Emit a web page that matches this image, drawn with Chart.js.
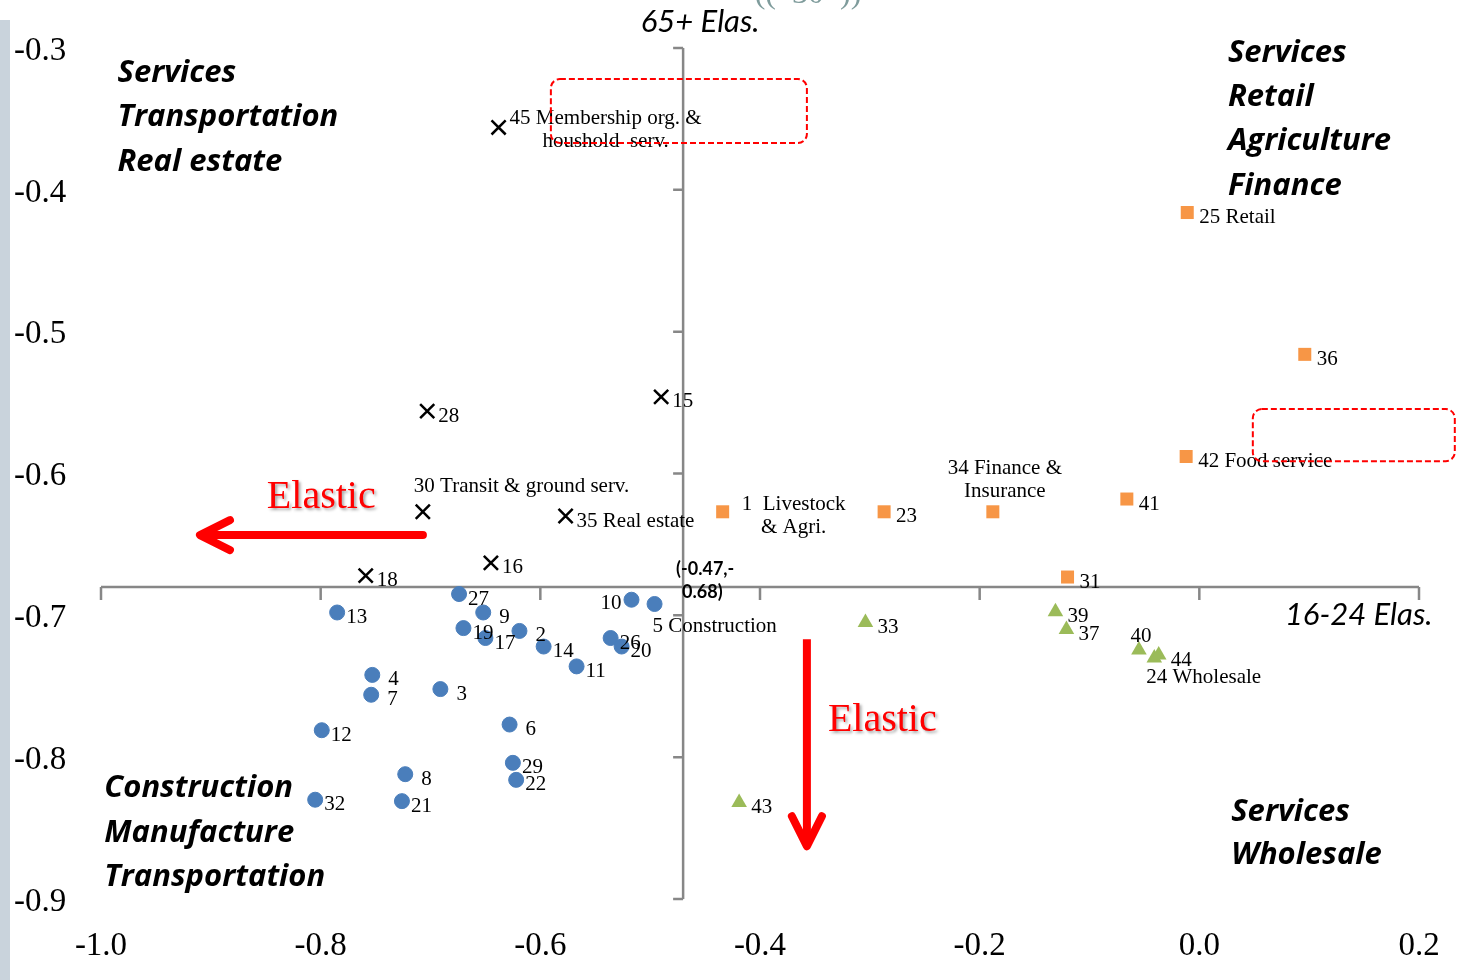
<!DOCTYPE html>
<html>
<head>
<meta charset="utf-8">
<script src="https://cdn.jsdelivr.net/npm/chart.js@4"></script>
<style>
  html, body { margin: 0; padding: 0; background: #fff; }
  #wrap { width: 1469px; height: 980px; position: relative; }
</style>
</head>
<body>
<div id="wrap"><canvas id="scatter"></canvas></div>
<script>
// axis ranges and tick labels
var xMin = -1.0, xMax = 0.2, yMin = -0.9, yMax = -0.3;
var xTickLabels = ['-1.0', '-0.8', '-0.6', '-0.4', '-0.2', '0.0', '0.2'];
var yTickLabels = ['-0.9', '-0.8', '-0.7', '-0.6', '-0.5', '-0.4', '-0.3'];
var axisX0 = -0.47, axisY0 = -0.68;   // where the two axes cross

// blue circles
var blueIds = ['27', '13', '9', '19', '17', '2', '14', '11', '10', '5 Construction', '26', '20',
               '4', '7', '3', '12', '6', '29', '22', '8', '32', '21'];
var blueX = [-0.674, -0.785, -0.652, -0.670, -0.650, -0.619, -0.597, -0.567, -0.517, -0.496, -0.536, -0.526,
             -0.753, -0.754, -0.691, -0.799, -0.628, -0.625, -0.622, -0.723, -0.805, -0.726];
var blueY = [-0.685, -0.698, -0.698, -0.709, -0.716, -0.711, -0.722, -0.736, -0.689, -0.692, -0.716, -0.722,
             -0.742, -0.756, -0.752, -0.781, -0.777, -0.804, -0.816, -0.812, -0.830, -0.831];

// black crosses
var crossIds = ['45 Membership org. &\nhoushold  serv.', '28', '15', '30 Transit & ground serv.',
                '35 Real estate', '16', '18'];
var crossX = [-0.638, -0.703, -0.490, -0.707, -0.577, -0.645, -0.759];
var crossY = [-0.356, -0.556, -0.546, -0.627, -0.630, -0.663, -0.672];

// orange squares
var squareIds = ['25 Retail', '36', '42 Food service', '41', '31', '1  Livestock\n& Agri.', '23',
                 '34 Finance &\nInsurance'];
var squareX = [-0.011, 0.096, -0.012, -0.066, -0.120, -0.434, -0.287, -0.188];
var squareY = [-0.416, -0.516, -0.588, -0.618, -0.673, -0.627, -0.627, -0.627];

// green triangles
var triIds = ['33', '39', '37', '40', '24 Wholesale', '44', '43'];
var triX = [-0.304, -0.131, -0.121, -0.055, -0.041, -0.037, -0.419];
var triY = [-0.705, -0.6975, -0.710, -0.7245, -0.730, -0.728, -0.832];

function pts(xs, ys) {
    return xs.map(function (v, i) { return { x: v, y: ys[i] }; });
}

// label spots that are not simply to the right of the mark
var labelPlace = {
    '10': { align: 'right', dx: -10, dy: 4 },
    '5': { align: 'left', dx: -2, dy: 22 },
    '45': { align: 'center', dx: 107, dy: -9 },
    '30': { align: 'left', dx: -9, dy: -25 },
    '1': { align: 'center', dx: 71, dy: -7 },
    '34': { align: 'center', dx: 12, dy: -43 },
    '40': { align: 'center', dx: 2, dy: -14 },
    '24': { align: 'left', dx: -8, dy: 20 }
};

var pointLabels = {
    id: 'pointLabels',
    afterDatasetsDraw: function (chart) {
        var ctx = chart.ctx;
        ctx.save();
        ctx.font = '21px "Liberation Serif"';
        ctx.fillStyle = '#000';
        ctx.textBaseline = 'middle';
        chart.data.datasets.forEach(function (ds, di) {
            var meta = chart.getDatasetMeta(di);
            meta.data.forEach(function (el, i) {
                var text = ds.ids[i];
                var key = text.split(' ')[0];
                var pl = labelPlace[key] || { align: 'left', dx: ds.labelDx + (text.length === 1 ? 7 : 0), dy: 5 };
                ctx.textAlign = pl.align;
                text.split('\n').forEach(function (line, li) {
                    ctx.fillText(line, el.x + pl.dx, el.y + pl.dy + li * 23);
                });
            });
        });
        ctx.restore();
    }
};

var crossAxes = {
    id: 'crossAxes',
    beforeDatasetsDraw: function (chart) {
        var ctx = chart.ctx, xs = chart.scales.x, ys = chart.scales.y;
        var px0 = xs.getPixelForValue(axisX0), py0 = ys.getPixelForValue(axisY0);
        ctx.save();
        ctx.strokeStyle = '#878787';
        ctx.lineWidth = 2.5;
        ctx.beginPath();
        ctx.moveTo(xs.getPixelForValue(xMin), py0);
        ctx.lineTo(xs.getPixelForValue(xMax), py0);
        xs.ticks.forEach(function (t) {
            var p = xs.getPixelForValue(t.value);
            ctx.moveTo(p, py0);
            ctx.lineTo(p, py0 + 13);
        });
        ctx.moveTo(px0, ys.getPixelForValue(yMax));
        ctx.lineTo(px0, ys.getPixelForValue(yMin));
        ys.ticks.forEach(function (t) {
            var p = ys.getPixelForValue(t.value);
            ctx.moveTo(px0 - 10, p);
            ctx.lineTo(px0, p);
        });
        ctx.stroke();
        ctx.restore();
    }
};

function roundBox(ctx, x1, y1, x2, y2, r) {
    ctx.beginPath();
    ctx.moveTo(x1 + r, y1);
    ctx.arcTo(x2, y1, x2, y2, r);
    ctx.arcTo(x2, y2, x1, y2, r);
    ctx.arcTo(x1, y2, x1, y1, r);
    ctx.arcTo(x1, y1, x2, y1, r);
    ctx.closePath();
    ctx.stroke();
}

var notes = {
    id: 'notes',
    afterDraw: function (chart) {
        var ctx = chart.ctx, xs = chart.scales.x, ys = chart.scales.y;
        function X(v) { return xs.getPixelForValue(v); }
        function Y(v) { return ys.getPixelForValue(v); }
        ctx.save();

        // grey strip on the left edge and the cut-off page mark on top
        ctx.fillStyle = '#c9d3dc';
        ctx.fillRect(0, 20, 10, 960);
        ctx.fillStyle = '#7f9c9c';
        ctx.font = '32px "Liberation Serif"';
        ctx.textAlign = 'center';
        ctx.textBaseline = 'alphabetic';
        ctx.fillText('((  30  ))', 808, 3);

        // quadrant captions
        ctx.fillStyle = '#000';
        ctx.textAlign = 'left';
        ctx.textBaseline = 'middle';
        ctx.font = 'italic bold 31px "Open Sans"';
        function block(lines, x, y, step) {
            lines.forEach(function (s, i) { ctx.fillText(s, X(x), Y(y) + i * step); });
        }
        block(['Services', 'Transportation', 'Real estate'], -0.985, -0.3176, 44.5);
        block(['Services', 'Retail', 'Agriculture', 'Finance'], 0.026, -0.3035, 44.3);
        block(['Construction', 'Manufacture', 'Transportation'], -0.997, -0.8219, 44.5);
        block(['Services', 'Wholesale'], 0.029, -0.8388, 43);

        // axis titles
        ctx.font = 'italic 31px Lato';
        ctx.fillText('65+ Elas.', X(-0.5085), Y(-0.2817));
        ctx.fillText('16-24 Elas.', X(0.0779), Y(-0.7));

        // crossing point
        var px0 = X(axisX0), py0 = Y(axisY0);
        ctx.font = 'bold 18px Lato';
        ctx.fillText('(-0.47,-', px0 - 7, py0 - 18);
        ctx.fillText('0.68)', px0 - 1, py0 + 5);

        // red arrows
        ctx.strokeStyle = '#ff0000';
        ctx.lineWidth = 8;
        ctx.lineCap = 'round';
        ctx.lineJoin = 'round';
        var ay = Y(-0.6434), ax1 = X(-0.7069), ax2 = X(-0.9099);
        ctx.beginPath();
        ctx.moveTo(ax1, ay); ctx.lineTo(ax2 + 4, ay);
        ctx.moveTo(ax2 + 30, ay - 15); ctx.lineTo(ax2, ay); ctx.lineTo(ax2 + 30, ay + 15);
        ctx.stroke();
        var bx = X(-0.3573), by1 = Y(-0.7168), by2 = Y(-0.8628);
        ctx.lineCap = 'butt';
        ctx.beginPath();
        ctx.moveTo(bx, by1); ctx.lineTo(bx, by2 - 4);
        ctx.stroke();
        ctx.lineCap = 'round';
        ctx.beginPath();
        ctx.moveTo(bx - 15, by2 - 30); ctx.lineTo(bx, by2); ctx.lineTo(bx + 15, by2 - 30);
        ctx.stroke();

        // "Elastic" captions
        ctx.save();
        ctx.font = '40px "Liberation Serif"';
        ctx.fillStyle = '#ff0000';
        ctx.shadowColor = 'rgba(0,0,0,0.35)';
        ctx.shadowOffsetX = 2;
        ctx.shadowOffsetY = 2;
        ctx.shadowBlur = 3;
        ctx.fillText('Elastic', X(-0.849), Y(-0.6167));
        ctx.fillText('Elastic', X(-0.3382), Y(-0.7739));
        ctx.restore();

        // dashed highlight boxes
        ctx.strokeStyle = '#ff0000';
        ctx.lineWidth = 2;
        ctx.lineCap = 'butt';
        ctx.setLineDash([6, 3]);
        roundBox(ctx, X(-0.5904), Y(-0.3219), X(-0.3573), Y(-0.367), 9);
        roundBox(ctx, X(0.0487), Y(-0.5546), X(0.2326), Y(-0.5913), 9);
        ctx.restore();
    }
};

new Chart(document.getElementById('scatter').getContext('2d'), {
    type: 'scatter',
    data: {
        datasets: [{
            data: pts(blueX, blueY),
            ids: blueIds,
            labelDx: 9,
            pointStyle: 'circle',
            radius: 7.5,
            backgroundColor: 'rgb(74, 126, 187)',
            borderColor: 'rgb(74, 126, 187)',
            borderWidth: 1
        }, {
            data: pts(crossX, crossY),
            ids: crossIds,
            labelDx: 11,
            pointStyle: 'crossRot',
            radius: 10,
            borderColor: '#000',
            borderWidth: 2.5
        }, {
            data: pts(squareX, squareY),
            ids: squareIds,
            labelDx: 12,
            pointStyle: 'rect',
            radius: 9.2,
            backgroundColor: 'rgb(247, 150, 70)',
            borderColor: 'rgb(247, 150, 70)',
            borderWidth: 0
        }, {
            data: pts(triX, triY),
            ids: triIds,
            labelDx: 12,
            pointStyle: 'triangle',
            radius: 9,
            backgroundColor: 'rgb(155, 187, 89)',
            borderColor: 'rgb(155, 187, 89)',
            borderWidth: 0
        }]
    },
    options: {
        responsive: true,
        maintainAspectRatio: false,
        animation: false,
        layout: { padding: { left: 14, top: 48, right: 50, bottom: 0 } },
        plugins: {
            legend: { display: false },
            tooltip: { enabled: false }
        },
        scales: {
            x: {
                type: 'linear',
                min: xMin,
                max: xMax,
                grid: { display: false },
                border: { display: false },
                afterFit: function (scale) { scale.height = 81; },
                ticks: {
                    stepSize: 0.2,
                    padding: 20,
                    color: '#000',
                    font: { family: 'Liberation Serif', size: 33 },
                    callback: function (v, i) { return xTickLabels[i]; }
                }
            },
            y: {
                type: 'linear',
                min: yMin,
                max: yMax,
                grid: { display: false },
                border: { display: false },
                afterFit: function (scale) { scale.width = 87; },
                ticks: {
                    stepSize: 0.1,
                    crossAlign: 'far',
                    labelOffset: 3,
                    color: '#000',
                    font: { family: 'Liberation Serif', size: 33 },
                    callback: function (v, i) { return yTickLabels[i]; }
                }
            }
        }
    },
    plugins: [crossAxes, pointLabels, notes]
});
</script>
</body>
</html>
